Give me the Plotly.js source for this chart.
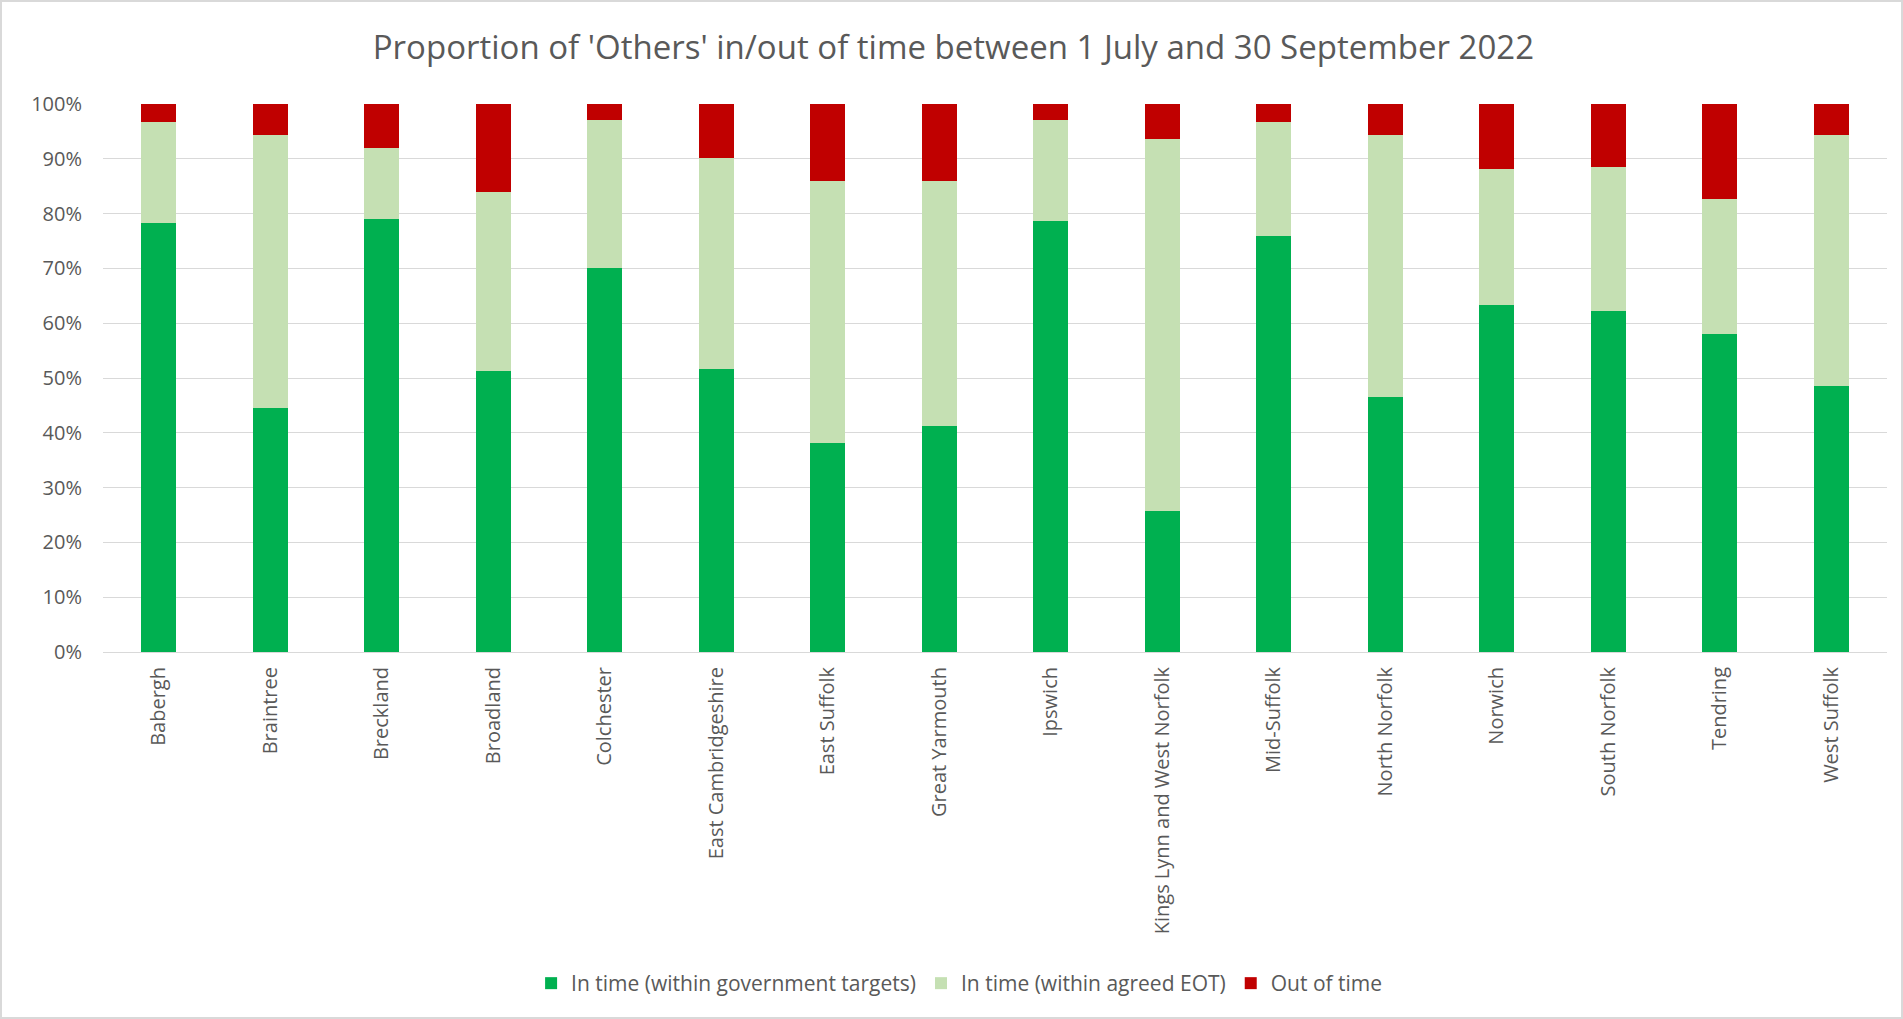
<!DOCTYPE html>
<html>
<head>
<meta charset="utf-8">
<script src="https://cdn.plot.ly/plotly-3.0.1.min.js"></script>
<style>
html,body{margin:0;padding:0;background:#fff;}
#chart{width:1903px;height:1019px;box-sizing:border-box;border:2px solid #d9d9d9;}
</style>
</head>
<body>
<div id="chart"></div>
<script>
const categories = ["Babergh","Braintree","Breckland","Broadland","Colchester","East Cambridgeshire","East Suffolk","Great Yarmouth","Ipswich","Kings Lynn and West Norfolk","Mid-Suffolk","North Norfolk","Norwich","South Norfolk","Tendring","West Suffolk"];
const inTimeTargets = [78.3,44.6,79.0,51.2,70.0,51.7,38.2,41.3,78.6,25.8,75.9,46.5,63.4,62.3,58.1,48.5];
const inTimeEOT = [18.4,49.7,12.9,32.8,27.1,38.5,47.7,44.6,18.4,67.8,20.9,47.8,24.8,26.2,24.6,45.9];
const outOfTime = [3.3,5.7,8.1,16.0,2.9,9.8,14.1,14.1,3.0,6.4,3.2,5.7,11.8,11.5,17.3,5.6];
const seriesNames = ["In time (within government targets)","In time (within agreed EOT)","Out of time"];
const yTickVals = [0,10,20,30,40,50,60,70,80,90,100];
const yTickText = ["0%","10%","20%","30%","40%","50%","60%","70%","80%","90%","100%"];

const colors = ["#00B050","#C5E0B3","#C00000"];
const series = [inTimeTargets, inTimeEOT, outOfTime];
const traces = series.map((vals,i)=>({
  type:'bar', x:categories, y:vals, name:seriesNames[i],
  marker:{color:colors[i], line:{width:0}},
  hoverinfo:'x+y+name'
}));

const font = "'Open Sans', sans-serif";
const layout = {
  width:1899, height:1015,
  barmode:'stack', bargap:0.69,
  paper_bgcolor:'#fff', plot_bgcolor:'#fff',
  font:{family:font, color:'#595959', size:20},
  margin:{l:101, r:14, t:102, b:365},
  title:{text:"Proportion of 'Others' in/out of time between 1 July and 30 September 2022",
         font:{size:33, color:'#595959', family:font}, x:0.501, xanchor:'center', y:0.955, yanchor:'middle'},
  xaxis:{tickangle:-90, showgrid:false, showline:true, linecolor:'#d9d9d9', linewidth:1,
         ticks:'', tickfont:{size:20, color:'#595959'}, ticklabelstandoff:6},
  yaxis:{range:[0,100], tickvals:yTickVals, ticktext:yTickText, showgrid:true, gridcolor:'#d9d9d9', gridwidth:1,
         zeroline:false, showline:false, ticks:'', tickfont:{size:20, color:'#595959'}, ticklabelstandoff:20},
  legend:{orientation:'h', xref:'container', yref:'container', x:0.504, xanchor:'center', y:0.033, yanchor:'middle',
          font:{size:21, color:'#595959'}, traceorder:'normal', itemwidth:30},
  showlegend:true
};
Plotly.newPlot('chart', traces, layout, {displayModeBar:false});
</script>
</body>
</html>
